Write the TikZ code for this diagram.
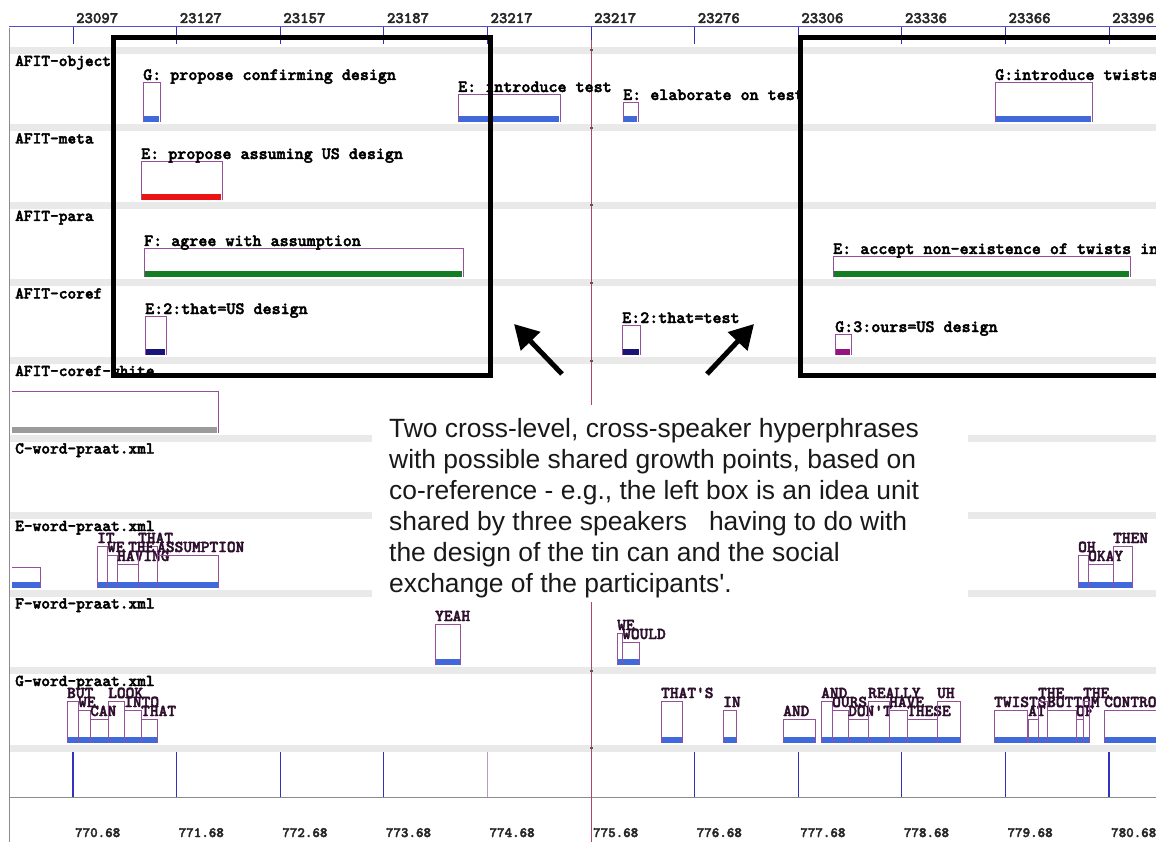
\documentclass[tikz,border=0pt]{standalone}
\usepackage{fontspec}
\usetikzlibrary{arrows.meta}
\newfontfamily\annfont{Liberation Sans}
\newfontfamily\monob{lmmonolt10-bold}[Extension=.otf, FakeBold=2.5]
\definecolor{axisblue}{RGB}{80,80,210}
\definecolor{tickblue}{RGB}{50,50,190}
\definecolor{barblue}{RGB}{65,105,220}
\definecolor{boxpurple}{RGB}{150,80,155}
\definecolor{bandgray}{RGB}{233,233,233}
\definecolor{cursorred}{RGB}{175,70,100}
\definecolor{barred}{RGB}{235,20,20}
\definecolor{bargreen}{RGB}{20,125,35}
\definecolor{barnavy}{RGB}{25,20,120}
\definecolor{barmag}{RGB}{150,20,130}
\definecolor{bargray}{RGB}{155,155,155}
\definecolor{wordcol}{RGB}{45,15,45}
\tikzset{
  annbox/.style={draw=boxpurple, line width=0.8pt},
  tierlab/.style={font=\monob\fontsize{16.6}{16.6}\selectfont, anchor=base west, inner sep=0pt},
  annlab/.style={font=\monob\fontsize{17.2}{17.2}\selectfont, anchor=base west, inner sep=0pt},
  wordlab/.style={font=\monob\fontsize{16.6}{16.6}\selectfont, anchor=base west, inner sep=0pt, text=wordcol},
  toplab/.style={font=\monob\fontsize{16}{16}\selectfont, anchor=base west, inner sep=0pt, text=black!85},
  botlab/.style={font=\monob\fontsize{14.3}{14.3}\selectfont, anchor=base west, inner sep=0pt, text=black!85},
  notelab/.style={font=\annfont\fontsize{26.4}{31}\selectfont, anchor=base west, inner sep=0pt, text=black!90},
  bigbox/.style={draw=black, line width=5pt},
  bigarrow/.style={line width=5pt, -{Triangle[length=24pt,width=26pt]}},
  band/.style={fill=bandgray}
}
% x1, x2, ytop, ybot, bar colour, label
\newcommand\annot[6]{%
  \draw[annbox] (#1,#4) -- (#1,#3) -- (#2,#3) -- (#2,#4);
  \fill[#5] (#1+1,#4-6) rectangle (#2-1,#4);
  \node[annlab] at (#1,#3-2) {#6};
}
% x1, x2, baseline, ybot, label
\newcommand\wrd[5]{%
  \draw[annbox] (#1,#4) -- (#1,#3+3) -- (#2,#3+3) -- (#2,#4);
  \fill[barblue] (#1+1,#4-6) rectangle (#2-0.5,#4);
  \node[wordlab] at (#1,#3) {#5};
}
\begin{document}
\begin{tikzpicture}[x=1pt,y=-1pt]
\useasboundingbox (0,0) rectangle (1156,842);
\clip (0,0) rectangle (1156,842);
\fill[white] (0,0) rectangle (1156,842);

% bands
\foreach \k in {0,...,9} {
  \fill[band] (10,47+77.5*\k) rectangle (1156,54+77.5*\k);
}
% left border
\draw[black!45, line width=0.8pt] (9,28) -- (9,842);

% top axis
\draw[axisblue, line width=1pt] (9,27) -- (1156,27);
\foreach \t/\lab in {0/23097,1/23127,2/23157,3/23187,4/23217,5/23217,6/23276,7/23306,8/23336,9/23366,10/23396} {
  \draw[tickblue, line width=1pt] (73+103.6*\t,27) -- (73+103.6*\t,44);
  \node[toplab] at (76+103.6*\t,23) {\lab};
}

% bottom axis
\draw[black!45, line width=1pt] (9,797) -- (1156,797);
\foreach \t/\lab in {0/770.68,1/771.68,2/772.68,3/773.68,4/774.68,5/775.68,6/776.68,7/777.68,8/778.68,9/779.68,10/780.68} {
  \node[botlab] at (75+103.6*\t,837) {\lab};
}
\foreach \t in {0,1,2,3,6,7,8,9,10} {
  \draw[tickblue, line width=1.1pt] (73+103.6*\t,752) -- (73+103.6*\t,797);
}
\draw[boxpurple!60, line width=1pt] (487.4,752) -- (487.4,797);

% cursor line
\draw[cursorred, line width=0.8pt] (591,40) -- (591,842);
\foreach \k in {0,...,9} {
  \fill[black!65] (589.5,49.5+77.5*\k) rectangle (592.5,51.5+77.5*\k);
}

% tier labels
\node[tierlab] at (15,66) {AFIT-object};
\node[tierlab] at (15,143.5) {AFIT-meta};
\node[tierlab] at (15,221) {AFIT-para};
\node[tierlab] at (15,298.5) {AFIT-coref};
\node[tierlab] at (15,376) {AFIT-coref-white};
\node[tierlab] at (15,453.5) {C-word-praat.xml};
\node[tierlab] at (15,531) {E-word-praat.xml};
\node[tierlab] at (15,608.5) {F-word-praat.xml};
\node[tierlab] at (15,686) {G-word-praat.xml};

% AFIT-object
\annot{143}{160}{82}{122.5}{barblue}{G: propose confirming design}
\annot{458}{560}{94}{122.5}{barblue}{E: introduce test}
\annot{623}{638}{102}{122.5}{barblue}{E: elaborate on test}
\annot{995}{1092}{82}{122.5}{barblue}{G:introduce twists}
% AFIT-meta
\annot{141}{222}{161}{200}{barred}{E: propose assuming US design}
% AFIT-para
\annot{144}{463}{248}{277.5}{bargreen}{F: agree with assumption}
\annot{833}{1130}{256}{277.5}{bargreen}{E: accept non-existence of twists in}
% AFIT-coref
\annot{145}{166}{316}{355}{barnavy}{E:2:that=US design}
\annot{622}{640}{325}{355}{barnavy}{E:2:that=test}
\annot{835}{851}{334}{355}{barmag}{G:3:ours=US design}
% AFIT-coref-white
\draw[annbox] (12,391) -- (218,391) -- (218,432.5);
\fill[bargray] (12,426.5) rectangle (217,432.5);

% E-word
\draw[annbox] (12,567) -- (40,567) -- (40,587.5);
\fill[barblue] (12,581.5) rectangle (39.5,587.5);
\wrd{97}{107}{543}{587.5}{IT}
\wrd{107}{117}{552}{587.5}{WE}
\wrd{117}{138}{561}{587.5}{HAVING}
\wrd{138}{157}{543}{587.5}{THAT}
\wrd{157}{218}{552}{587.5}{ASSUMPTION}
\node[wordlab] at (128,552) {THE};
\wrd{1078}{1088}{552}{587.5}{OH}
\wrd{1088}{1113}{561}{587.5}{OKAY}
\wrd{1113}{1132}{543}{587.5}{THEN}

% F-word
\wrd{435}{460}{621}{665}{YEAH}
\wrd{617}{622}{630}{665}{WE}
\wrd{622}{639}{639}{665}{WOULD}

% G-word
\wrd{67}{78}{698}{742.5}{BUT}
\wrd{78}{90}{707}{742.5}{WE}
\wrd{90}{108}{716}{742.5}{CAN}
\wrd{108}{124}{698}{742.5}{LOOK}
\wrd{124}{141}{707}{742.5}{INTO}
\wrd{141}{157}{716}{742.5}{THAT}
\wrd{661}{682}{698}{742.5}{THAT'S}
\wrd{723}{736}{707}{742.5}{IN}
\wrd{783}{815}{716}{742.5}{AND}
\wrd{821}{832}{698}{742.5}{AND}
\wrd{832}{848}{707}{742.5}{OURS}
\wrd{848}{868}{716}{742.5}{DON'T}
\wrd{868}{889}{698}{742.5}{REALLY}
\wrd{889}{907}{707}{742.5}{HAVE}
\wrd{907}{937}{716}{742.5}{THESE}
\wrd{937}{960}{698}{742.5}{UH}
\wrd{994}{1027}{707}{742.5}{TWISTS}
\wrd{1028}{1038}{716}{742.5}{AT}
\wrd{1038}{1047}{698}{742.5}{THE}
\wrd{1047}{1076}{707}{742.5}{BOTTOM}
\wrd{1076}{1083}{716}{742.5}{OF}
\wrd{1083}{1089}{698}{742.5}{THE}
\wrd{1104}{1165}{707}{742.5}{CONTROL}

% annotation note
\fill[white] (372,405) rectangle (968,602);
\node[notelab] (n1) at (389,437) {Two cross-level, cross-speaker hyperphrases};
\node[notelab] (n2) at (389,468) {with possible shared growth points, based on};
\node[notelab] (n3) at (389,499) {co-reference - e.g., the left box is an idea unit};
\node[notelab] (n4) at (389,530) {shared by three speakers\ \ \ having to do with};
\node[notelab] (n5) at (389,561) {the design of the tin can and the social};
\node[notelab] (n6) at (389,592) {exchange of the participants'.};

% big boxes
\draw[bigbox] (113,37.5) rectangle (490,375.5);
\draw[bigbox] (800,37.5) rectangle (1175,375.5);

% arrows
\coordinate (la0) at (562,374);
\coordinate (la1) at (514,324);
\coordinate (ra0) at (707,374);
\coordinate (ra1) at (754,324);
\draw[bigarrow] (la0) -- (la1);
\draw[bigarrow] (ra0) -- (ra1);
\end{tikzpicture}
\end{document}
